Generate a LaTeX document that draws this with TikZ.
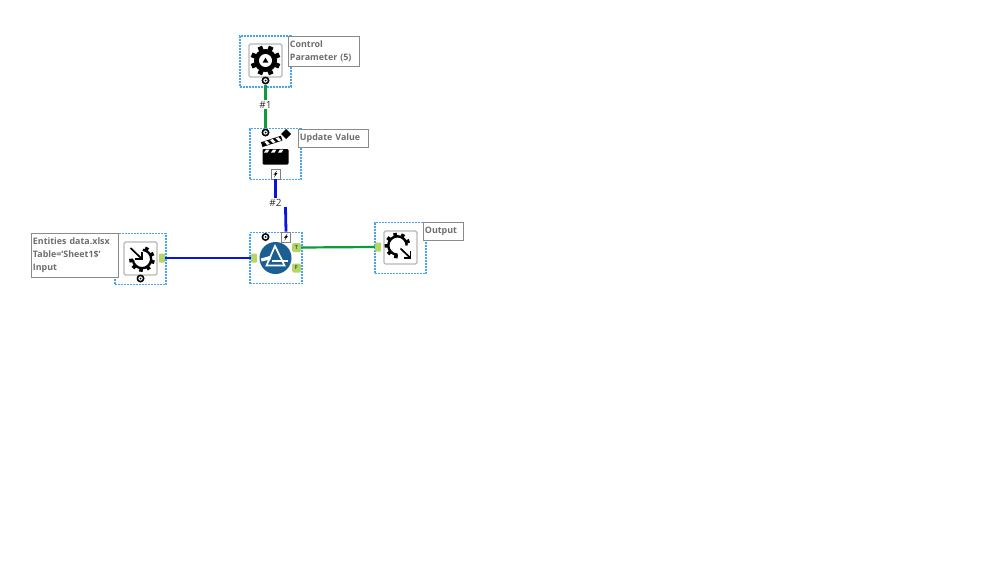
\documentclass[tikz,border=0pt]{standalone}
\usepackage{fontspec}
\setmainfont{Open Sans}
\definecolor{selblue}{HTML}{46A4F2}
\definecolor{txtgray}{HTML}{6E6E6E}
\definecolor{boxgray}{HTML}{8A8A8A}
\definecolor{icongray}{HTML}{B8B8B8}
\definecolor{portgreen}{HTML}{B4D665}
\definecolor{wiregreen}{HTML}{0F9A3C}
\definecolor{wireblue}{HTML}{0A14DC}
\definecolor{filterblue}{HTML}{1B5E91}
\tikzset{
  selbox/.style={draw=selblue,dash pattern=on 2pt off 1pt,line width=1.2pt,inner sep=0pt,minimum width=51pt,minimum height=51pt},
  iconbox/.style={draw=icongray,fill=white,rounded corners=1.5pt,line width=1.2pt,inner sep=0pt,minimum width=33pt,minimum height=33pt},
  labelbox/.style={draw=boxgray,fill=white,line width=0.9pt,inner sep=1.5pt,text=txtgray,font=\bfseries\fontsize{8.9}{13}\selectfont,align=left,anchor=north west},
  qport/.style={circle,fill=black,inner sep=0pt,minimum size=8pt},
  boltport/.style={draw=gray,fill=white,line width=0.6pt,inner sep=0pt,minimum width=9pt,minimum height=10pt},
  greenport/.style={fill=portgreen,rounded corners=0.8pt,inner sep=0pt,minimum width=6pt,minimum height=9pt},
  tfport/.style={fill=portgreen,rounded corners=1.5pt,inner sep=0pt,minimum width=9pt,minimum height=9pt,font=\bfseries\fontsize{5.5}{6}\selectfont,text=black!70},
  greenwire/.style={draw=wiregreen,line width=2.2pt},
  bluewire/.style={draw=wireblue,line width=2.8pt},
  hashlabel/.style={inner sep=1pt,font=\fontsize{10}{12}\selectfont,text=black!80},
  tooth/.style={line width=3.6pt,black},
}
\newcommand{\qmark}[1]{\fill[white] (#1) circle (2.2pt); \fill[black] (#1) circle (1pt);}
\newcommand{\boltmark}[1]{\fill[black] ([shift={(1.5,-3.5)}]#1) -- ([shift={(-2,0.8)}]#1) -- ([shift={(-0.2,0.6)}]#1) -- ([shift={(-1.5,3.6)}]#1) -- ([shift={(2,-1)}]#1) -- ([shift={(0.2,-0.8)}]#1) -- cycle;}
% open gear: arc start, arc end, tooth angles (drawn in a y-up scope)
\newcommand{\opengear}[3]{%
  \draw[line width=2.4pt,black] (#1:9.2pt) arc[start angle=#1,end angle=#2,radius=9.2pt];
  \foreach \a in {#3}{\draw[tooth] (\a:9pt) -- (\a:12.8pt);}
}
\begin{document}
\begin{tikzpicture}[x=1pt,y=-1pt]
\useasboundingbox[fill=white] (0,0) rectangle (999,562);

% selection boxes
\node[selbox] (selctrl) at (265.5,61.5) {};
\node[selbox] (selupd) at (275.5,154) {};
\node[selbox] (selinp) at (140.5,259) {};
\node[selbox,minimum width=52pt] (selflt) at (276,258) {};
\node[selbox] (selout) at (400.5,248) {};

% tool icon frames
\node[iconbox] (icctrl) at (265.5,60.5) {};
\node[iconbox] (icinp) at (140.5,258.5) {};
\node[iconbox] (icout) at (400.5,247.5) {};

% annotation boxes
\node[labelbox,text width=68pt,minimum height=30pt] (lblctrl) at (288,36) {Control\\Parameter (5)};
\node[labelbox,text width=67pt,minimum height=18pt] (lblupd) at (298,129) {Update Value};
\node[labelbox,text width=84pt,minimum height=44pt] (lblinp) at (31,233) {Entities data.xlsx\\Table=`Sheet1\$`\\Input};
\node[labelbox,text width=37pt,minimum height=18pt] (lblout) at (423,222) {Output};

% control gear
\begin{scope}[shift={(icctrl.center)},x=1pt,y=1pt]
\foreach \a in {0,45,...,315}{\draw[line width=4.8pt,black] (\a+22.5:9pt) -- (\a+22.5:15pt);}
\fill[black] (0,0) circle (11.5pt);
\fill[white] (0,0) circle (6.5pt);
\fill[black] (0,2.8) -- (2.8,-2) -- (-2.8,-2) -- cycle;
\end{scope}

% input gear
\begin{scope}[shift={(icinp.center)},xshift=1.5pt,yshift=-0.5pt,x=1pt,y=1pt]
\opengear{85}{-175}{65,25,-15,-55,-95,-135,-172}
\draw[line width=1.7pt,black] (-11.5,11) -- (0,0);
\draw[line width=1.7pt,black] (-7,0) -- (0,0) -- (0,7);
\end{scope}

% output gear
\begin{scope}[shift={(397.5,245.5)},x=1pt,y=1pt]
\opengear{0}{270}{22,62,102,142,182,222,262}
\draw[line width=1.7pt,black] (3,-3) -- (13,-12.5);
\draw[line width=1.7pt,black] (13,-5.5) -- (13,-12.5) -- (6,-12.5);
\end{scope}

% clapperboard
\fill[black,rounded corners=1.2pt] (262.5,149) rectangle (288.5,164.5);
\foreach \d in {266,273,280}{\fill[white] (\d,149.6) -- (\d+3.5,149.6) -- (\d+1.5,152.6) -- (\d-2,152.6) -- cycle;}
\begin{scope}[shift={(262.5,147)},rotate=18]
\fill[black] (0,0) rectangle (21,-5);
\foreach \d in {5,11,17}{\fill[white] (\d,-0.6) -- (\d+3,-0.6) -- (\d+1.2,-4.4) -- (\d-1.8,-4.4) -- cycle;}
\end{scope}
\fill[black] (286,129) -- (291,134) -- (286,139) -- (281,134) -- cycle;

% filter icon
\node[circle,fill=filterblue,inner sep=0pt,minimum size=32pt] (icflt) at (275.5,258) {};
\begin{scope}[shift={(icflt.center)}]
\draw[white,line width=1.7pt,line join=miter] (-9,7.5) -- (-0.5,-12) -- (9,7.5) -- cycle;
\draw[white,line width=1.7pt] (-4,3) -- (12,3);
\fill[white] (-14.5,0.5) -- (-4,-2.5) -- (-5,1.5) -- (-14,3.5) -- cycle;
\end{scope}

% ports
\node[qport] (ctrlq) at (265.5,80.5) {}; \qmark{ctrlq.center}
\node[qport] (updq) at (265.5,132.5) {}; \qmark{updq.center}
\node[qport] (inpq) at (140.5,278.5) {}; \qmark{inpq.center}
\node[qport] (fltq) at (265.5,237) {}; \qmark{fltq.center}
\node[boltport] (updbolt) at (275.5,174) {}; \boltmark{updbolt.center}
\node[boltport] (fltbolt) at (286,237) {}; \boltmark{fltbolt.center}
\node[greenport] (inpo) at (162,258) {};
\node[greenport] (flti) at (254,258) {};
\node[greenport] (outi) at (378,247) {};
\node[tfport] (fltt) at (296.5,247.5) {T};
\node[tfport] (fltf) at (296.5,268) {F};

% connection labels
\node[hashlabel] (hash1) at (265.5,104.5) {\#1};
\node[hashlabel] (hash2) at (275.5,202.5) {\#2};
\coordinate (two) at (285.5,207);

% connectors
\draw[greenwire] (ctrlq.south) -- (hash1.north);
\draw[greenwire] (hash1.south) -- (updq.north);
\draw[bluewire] (updbolt.south) -- (hash2.north);
\draw[bluewire] (two) -- (fltbolt.north);
\draw[bluewire] (inpo.east) -- (flti.west);
\draw[greenwire] (fltt.east) -- (outi.west);
\end{tikzpicture}
\end{document}
